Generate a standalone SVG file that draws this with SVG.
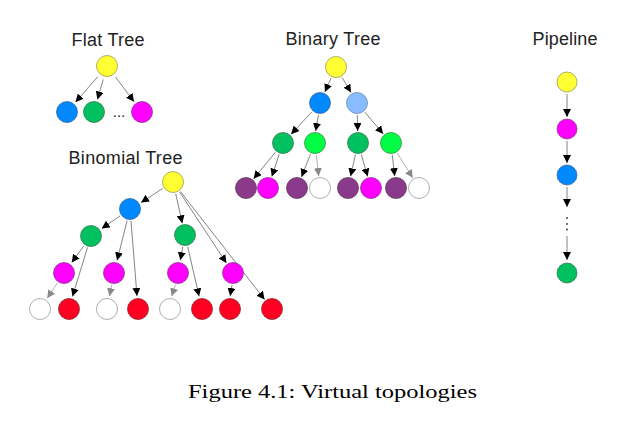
<svg xmlns="http://www.w3.org/2000/svg" width="620" height="433" viewBox="0 0 620 433">
<style>
.t{font-family:"Liberation Sans",Arial,sans-serif;font-size:18px;fill:#222;text-anchor:middle}
.cap{font-family:"Liberation Serif","Times New Roman",serif;font-size:19px;fill:#000}
circle{stroke-width:0.8}
.y{fill:#FFFF33;stroke:#9a9a50}
.b{fill:#0088FF;stroke:#3a6aa0}
.lb{fill:#88BBFF;stroke:#6a8ab0}
.g{fill:#00C060;stroke:#3a7a50}
.bg{fill:#00FF44;stroke:#3a8a40}
.m{fill:#FF00FF;stroke:#8a3a8a}
.p{fill:#8B3A8B;stroke:#5a3a5a}
.r{fill:#FF0022;stroke:#8a2a2a}
.w{fill:#fff;stroke:#999}
.e{stroke:#777;stroke-width:0.9;fill:none;marker-end:url(#ah)}
.el{stroke:#aaa;stroke-width:0.9;fill:none;marker-end:url(#ahl)}
</style>
<defs>
<marker id="ah" viewBox="0 0 10 10" refX="10" refY="5" markerWidth="8" markerHeight="8" markerUnits="userSpaceOnUse" orient="auto"><path d="M0,0 L10,5 L0,10 z" fill="#000"/></marker>
<marker id="ahl" viewBox="0 0 10 10" refX="10" refY="5" markerWidth="8" markerHeight="8" markerUnits="userSpaceOnUse" orient="auto"><path d="M0,0 L10,5 L0,10 z" fill="#888"/></marker>
</defs>
<rect width="620" height="433" fill="#fff"/>
<g id="titles">
<text class="t" x="108" y="46" textLength="73">Flat Tree</text>
<text class="t" x="333" y="45" textLength="95">Binary Tree</text>
<text class="t" x="125.5" y="164" textLength="114">Binomial Tree</text>
<text class="t" x="565" y="45" textLength="65">Pipeline</text>
</g>
<g id="connectors">
<line class="e" x1="97.8" y1="76.6" x2="75.5" y2="102.2"/>
<line class="e" x1="103.2" y1="79.5" x2="97.5" y2="99.5"/>
<line class="e" x1="115.5" y1="77.1" x2="134.1" y2="101.7"/>
<line class="e" x1="331.1" y1="78" x2="324.9" y2="92"/>
<line class="e" x1="342" y1="77.4" x2="351" y2="92.6"/>
<line class="e" x1="311.9" y1="111.8" x2="291.1" y2="134.2"/>
<line class="e" x1="318.5" y1="114.9" x2="315.6" y2="131.1"/>
<line class="e" x1="357.3" y1="115" x2="357.7" y2="131"/>
<line class="e" x1="364.8" y1="112.1" x2="383.2" y2="133.9"/>
<line class="e" x1="275.4" y1="152.3" x2="253.6" y2="178.7"/>
<line class="e" x1="279.2" y1="154.4" x2="271.8" y2="176.6"/>
<line class="e" x1="310.5" y1="154.1" x2="301.5" y2="176.9"/>
<line class="el" x1="316.3" y1="154.9" x2="318.7" y2="176.1"/>
<line class="e" x1="355.4" y1="154.7" x2="350.6" y2="176.3"/>
<line class="e" x1="361.3" y1="154.5" x2="367.7" y2="176.5"/>
<line class="e" x1="392.3" y1="154.9" x2="394.7" y2="176.1"/>
<line class="el" x1="397.3" y1="153.2" x2="412.7" y2="177.8"/>
<line class="e" x1="162.8" y1="188.4" x2="141" y2="202.6"/>
<line class="e" x1="175.7" y1="193.7" x2="182.3" y2="223.3"/>
<line class="e" x1="179.6" y1="192" x2="226.4" y2="263"/>
<line class="e" x1="180.4" y1="191.5" x2="264.6" y2="299.5"/>
<line class="e" x1="120.1" y1="215.8" x2="101.7" y2="228.6"/>
<line class="e" x1="127.1" y1="220.6" x2="117.1" y2="260.4"/>
<line class="e" x1="131" y1="221" x2="137" y2="296"/>
<line class="e" x1="83.9" y1="245.7" x2="71.7" y2="262.5"/>
<line class="e" x1="87.5" y1="247.5" x2="72.5" y2="296.5"/>
<line class="el" x1="57.4" y1="283" x2="47.2" y2="298.2"/>
<line class="el" x1="111.7" y1="284.8" x2="109.5" y2="296.2"/>
<line class="e" x1="182.8" y1="246.8" x2="180.4" y2="260.2"/>
<line class="e" x1="187.7" y1="246.7" x2="199.1" y2="296.3"/>
<line class="el" x1="175.4" y1="284.7" x2="171.7" y2="296.3"/>
<line class="e" x1="232" y1="285" x2="230.2" y2="296"/>
<line class="e" x1="567" y1="94" x2="567" y2="117"/>
<line class="e" x1="567" y1="141" x2="567" y2="163"/>
<line class="e" x1="567" y1="187" x2="567" y2="207"/>
<line class="e" x1="567" y1="236" x2="567" y2="260"/>
</g>
<g id="flat">
<circle id="f0" class="y" cx="107" cy="66" r="10.5"/>
<circle id="f1" class="b" cx="67" cy="112" r="10.5"/>
<circle id="f2" class="g" cx="94" cy="112" r="10.5"/>
<text id="fdots" x="119" y="117" font-family="Liberation Sans,Arial,sans-serif" font-size="15" fill="#222" text-anchor="middle">...</text>
<circle id="f3" class="m" cx="142" cy="112" r="10.5"/>
</g>
<g id="binary">
<circle id="b0" class="y" cx="336" cy="67" r="10.5"/>
<circle id="b1" class="b" cx="320" cy="103" r="10.5"/>
<circle id="b2" class="lb" cx="357" cy="103" r="10.5"/>
<circle id="b3" class="g" cx="283" cy="143" r="10.5"/>
<circle id="b4" class="bg" cx="315" cy="143" r="10.5"/>
<circle id="b5" class="g" cx="358" cy="143" r="10.5"/>
<circle id="b6" class="bg" cx="391" cy="143" r="10.5"/>
<circle id="b7" class="p" cx="246" cy="188" r="10.5"/>
<circle id="b8" class="m" cx="268" cy="188" r="10.5"/>
<circle id="b9" class="p" cx="297" cy="188" r="10.5"/>
<circle id="b10" class="w" cx="320" cy="188" r="10.5"/>
<circle id="b11" class="p" cx="348" cy="188" r="10.5"/>
<circle id="b12" class="m" cx="371" cy="188" r="10.5"/>
<circle id="b13" class="p" cx="396" cy="188" r="10.5"/>
<circle id="b14" class="w" cx="419" cy="188" r="10.5"/>
</g>
<g id="binomial">
<circle id="n0" class="y" cx="173" cy="182" r="10.5"/>
<circle id="n1" class="b" cx="130" cy="209" r="10.5"/>
<circle id="n2" class="g" cx="91" cy="236" r="10.5"/>
<circle id="n3" class="g" cx="185" cy="235" r="10.5"/>
<circle id="n4" class="m" cx="64" cy="273" r="10.5"/>
<circle id="n5" class="m" cx="114" cy="273" r="10.5"/>
<circle id="n6" class="m" cx="178" cy="273" r="10.5"/>
<circle id="n7" class="m" cx="233" cy="273" r="10.5"/>
<circle id="n8" class="w" cx="40" cy="309" r="10.5"/>
<circle id="n9" class="r" cx="69" cy="309" r="10.5"/>
<circle id="n10" class="w" cx="107" cy="309" r="10.5"/>
<circle id="n11" class="r" cx="138" cy="309" r="10.5"/>
<circle id="n12" class="w" cx="170" cy="309" r="10.5"/>
<circle id="n13" class="r" cx="202" cy="309" r="10.5"/>
<circle id="n14" class="r" cx="230" cy="309" r="10.5"/>
<circle id="n15" class="r" cx="272" cy="309" r="10.5"/>
</g>
<g id="pipeline">
<circle id="p0" class="y" cx="567" cy="82" r="10"/>
<circle id="p1" class="m" cx="567" cy="129" r="10"/>
<circle id="p2" class="b" cx="567" cy="175" r="10"/>
<g id="pdots" fill="#333"><circle cx="567" cy="218" r="0.9" stroke="none"/><circle cx="567" cy="224" r="0.9" stroke="none"/><circle cx="567" cy="229.5" r="0.9" stroke="none"/></g>
<circle id="p3" class="g" cx="567" cy="273" r="10"/>
</g>
<text class="cap" x="188" y="398" textLength="289" lengthAdjust="spacingAndGlyphs">Figure 4.1: Virtual topologies</text>
</svg>
